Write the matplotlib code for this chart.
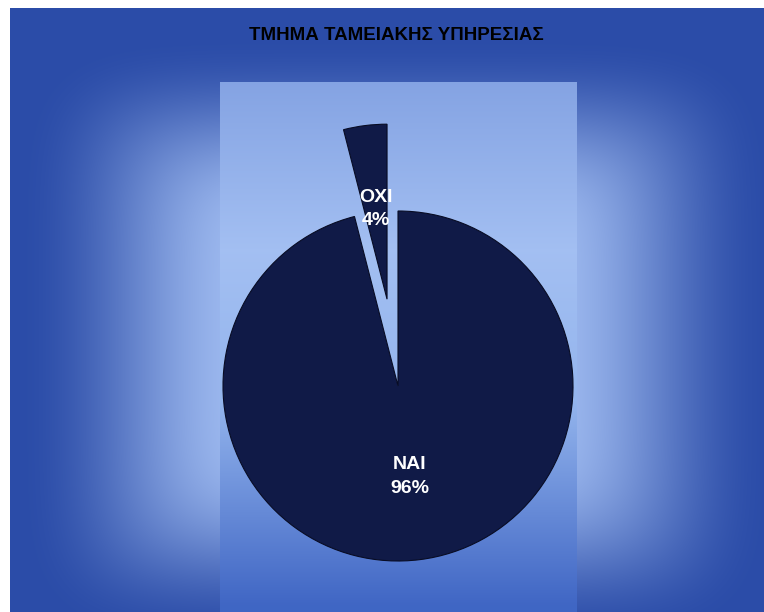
import numpy as np
import matplotlib
matplotlib.use("Agg")
import matplotlib.pyplot as plt

# Survey answers for the treasury department
labels = ["ΝΑΙ", "ΟΧΙ"]
shares = [96, 4]
title = "ΤΜΗΜΑ ΤΑΜΕΙΑΚΗΣ ΥΠΗΡΕΣΙΑΣ"

W, H = 764, 612
fig = plt.figure(figsize=(W / 100, H / 100), dpi=100)
fig.patch.set_facecolor("white")

# chart area background: soft box gradient, dark blue at the edges, pale in the middle
bg = fig.add_axes([10 / W, 0, (W - 10) / W, (H - 8) / H])
bg.set_axis_off()
yy, xx = np.mgrid[8:H, 10:W].astype(float)
dx = np.abs(xx - 395) / 385
dy = np.abs(yy - 340) / 310
p = 6.0
t = (dx ** p + dy ** p) ** (1 / p)
f = np.clip((t - 0.38) / 0.6, 0, 1)
f = f * f * (3 - 2 * f)
light = np.array([0.62, 0.73, 0.94])
dark = np.array([0.17, 0.30, 0.66])
img = light + (dark - light) * f[..., None]

# plot area: vertical gradient inside the central panel
px0, px1, py0 = 220, 576, 82
ys = np.array([82, 250, 400, 605], float)
cols = np.array([[0.52, 0.64, 0.89],
                 [0.64, 0.75, 0.95],
                 [0.58, 0.71, 0.93],
                 [0.25, 0.40, 0.77]])
rows = np.arange(8, H).astype(float)
prof = np.stack([np.interp(rows, ys, cols[:, k]) for k in range(3)], axis=-1)
mask = (xx >= px0) & (xx <= px1) & (yy >= py0)
img[mask] = np.broadcast_to(prof[:, None, :], img.shape)[mask]
bg.imshow(img, extent=(10, W, H, 8), aspect="auto", interpolation="bilinear")
bg.set_xlim(10, W)
bg.set_ylim(H, 8)

fig.text(396 / W, 1 - 36 / H, title, ha="center", va="center", fontsize=13.5,
         family="Liberation Sans", weight="bold", color="black")

# pie, radius 175 px centred at (398, 386)
R, cx, cy = 175, 398, 386
span = 3.2 * R
ax = fig.add_axes([(cx - span / 2) / W, (H - cy - span / 2) / H, span / W, span / H])
ax.set_facecolor("none")


def fmt(pct, it=iter(labels)):
    return f"{next(it)}\n{pct:.0f}%"


wedges, texts, autotexts = ax.pie(
    shares, startangle=90, counterclock=False, explode=[0, 0.5],
    colors=["#101a47", "#101a47"], autopct=fmt, pctdistance=0.52,
    wedgeprops=dict(edgecolor="#080c24", linewidth=0.8),
    textprops=dict(color="white", fontsize=14, family="Liberation Sans",
                   weight="bold", linespacing=1.5),
)
ax.set_xlim(-1.6, 1.6)
ax.set_ylim(-1.6, 1.6)
ax.set_axis_off()

fig.savefig("out.png", dpi=100)
